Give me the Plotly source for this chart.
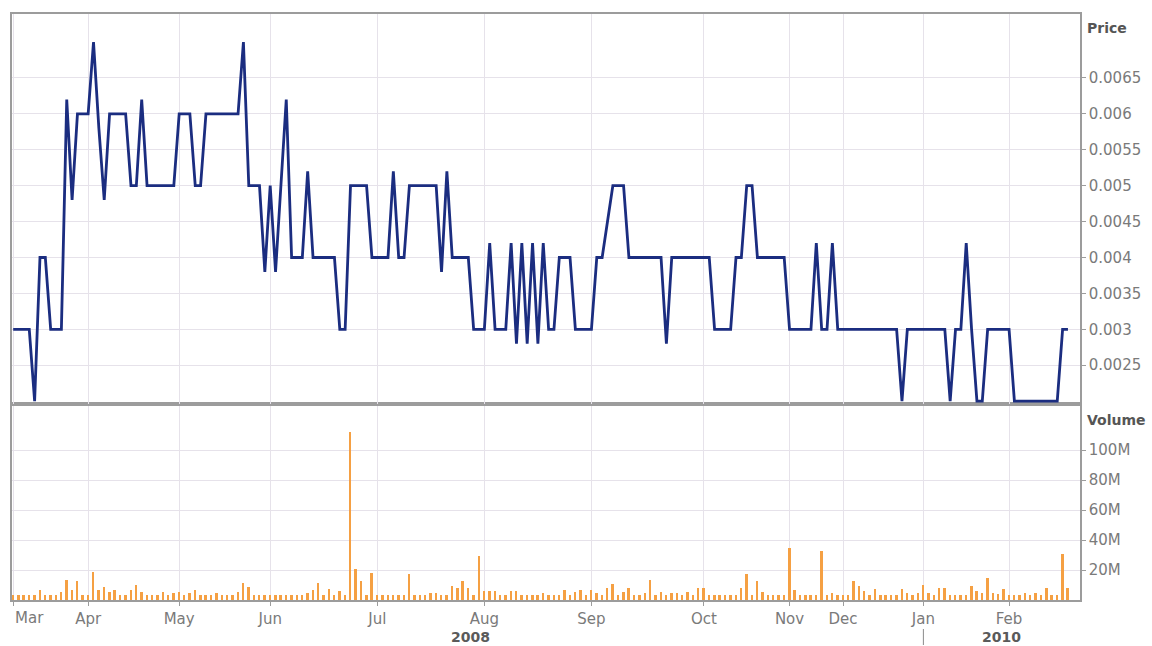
import plotly.graph_objects as go

# ---- data (one value per trading record) ----
price = [
    0.003, 0.003, 0.003, 0.003, 0.002, 0.004, 0.004, 0.003, 0.003, 0.003,   # 0-9
    0.0062, 0.0048, 0.006, 0.006, 0.006, 0.007, 0.0058, 0.0048, 0.006, 0.006,  # 10-19
    0.006, 0.006, 0.005, 0.005, 0.0062, 0.005, 0.005, 0.005, 0.005, 0.005,   # 20-29
    0.005, 0.006, 0.006, 0.006, 0.005, 0.005, 0.006, 0.006, 0.006, 0.006,    # 30-39
    0.006, 0.006, 0.006, 0.007, 0.005, 0.005, 0.005, 0.0038, 0.005, 0.0038,  # 40-49
    0.005, 0.0062, 0.004, 0.004, 0.004, 0.0052, 0.004, 0.004, 0.004, 0.004,  # 50-59
    0.004, 0.003, 0.003, 0.005, 0.005, 0.005, 0.005, 0.004, 0.004, 0.004,    # 60-69
    0.004, 0.0052, 0.004, 0.004, 0.005, 0.005, 0.005, 0.005, 0.005, 0.005,   # 70-79
    0.0038, 0.0052, 0.004, 0.004, 0.004, 0.004, 0.003, 0.003, 0.003, 0.0042, # 80-89
    0.003, 0.003, 0.003, 0.0042, 0.0028, 0.0042, 0.0028, 0.0042, 0.0028, 0.0042,  # 90-99
    0.003, 0.003, 0.004, 0.004, 0.004, 0.003, 0.003, 0.003, 0.003, 0.004,    # 100-109
    0.004, 0.0045, 0.005, 0.005, 0.005, 0.004, 0.004, 0.004, 0.004, 0.004,   # 110-119
    0.004, 0.004, 0.0028, 0.004, 0.004, 0.004, 0.004, 0.004, 0.004, 0.004,   # 120-129
    0.004, 0.003, 0.003, 0.003, 0.003, 0.004, 0.004, 0.005, 0.005, 0.004,    # 130-139
    0.004, 0.004, 0.004, 0.004, 0.004, 0.003, 0.003, 0.003, 0.003, 0.003,    # 140-149
    0.0042, 0.003, 0.003, 0.0042, 0.003, 0.003, 0.003, 0.003, 0.003, 0.003,  # 150-159
    0.003, 0.003, 0.003, 0.003, 0.003, 0.003, 0.002, 0.003, 0.003, 0.003,    # 160-169
    0.003, 0.003, 0.003, 0.003, 0.003, 0.002, 0.003, 0.003, 0.0042, 0.003,   # 170-179
    0.002, 0.002, 0.003, 0.003, 0.003, 0.003, 0.003, 0.002, 0.002, 0.002,    # 180-189
    0.002, 0.002, 0.002, 0.002, 0.002, 0.002, 0.003, 0.003,                  # 190-197
]

volume_m = [
    3.3, 3.3, 3.3, 3.3, 3.3, 6.7, 3.3, 3.3, 3.3, 5.6,        # 0-9
    13.3, 6.7, 12.7, 3.3, 3.3, 18.9, 6.7, 8.9, 5.6, 6.7,     # 10-19
    3.3, 3.3, 6.7, 10.0, 5.6, 3.3, 3.3, 3.3, 5.6, 3.3,       # 20-29
    4.4, 5.6, 3.3, 4.4, 6.7, 3.3, 3.3, 3.3, 4.4, 3.3,        # 30-39
    3.3, 3.3, 5.6, 11.1, 8.9, 3.3, 3.3, 3.3, 3.3, 3.3,       # 40-49
    3.3, 3.3, 3.3, 3.3, 3.3, 4.4, 6.7, 11.5, 3.3, 7.1,       # 50-59
    3.3, 6.0, 3.3, 112.0, 20.4, 12.9, 3.3, 18.2, 3.3, 3.3,   # 60-69
    3.3, 3.3, 3.3, 3.3, 17.1, 3.3, 3.3, 3.3, 4.4, 4.4,       # 70-79
    3.3, 3.3, 9.3, 8.2, 12.7, 8.2, 3.3, 29.3, 6.0, 6.0,      # 80-89
    6.0, 3.3, 3.3, 6.0, 6.0, 3.3, 3.3, 3.3, 3.3, 4.4,        # 90-99
    3.3, 3.3, 3.3, 6.7, 3.3, 5.6, 6.7, 3.3, 6.7, 4.4,        # 100-109
    3.3, 7.8, 10.4, 3.3, 5.6, 7.8, 3.3, 3.3, 4.4, 13.3,      # 110-119
    3.3, 5.6, 3.3, 4.4, 4.4, 3.3, 5.6, 3.3, 7.8, 7.8,        # 120-129
    3.3, 3.3, 3.3, 3.3, 3.3, 3.3, 7.8, 17.1, 3.3, 12.7,      # 130-139
    5.6, 3.3, 3.3, 3.3, 3.3, 34.4, 6.7, 3.3, 3.3, 3.3,       # 140-149
    3.3, 32.9, 3.3, 4.9, 3.3, 3.3, 3.3, 12.9, 9.3, 6.0,      # 150-159
    3.3, 7.1, 3.3, 3.3, 3.3, 3.3, 7.1, 4.9, 3.3, 4.9,        # 160-169
    10.0, 4.9, 3.3, 8.2, 8.2, 3.3, 3.3, 3.3, 3.3, 9.3,       # 170-179
    6.0, 4.9, 14.9, 4.9, 3.8, 7.1, 3.3, 3.3, 3.3, 4.9,       # 180-189
    3.3, 4.9, 3.3, 8.2, 3.3, 3.3, 30.7, 8.2,                 # 190-197
]

record = list(range(len(price)))

month_labels = ["Mar", "Apr", "May", "Jun", "Jul", "Aug", "Sep", "Oct", "Nov", "Dec", "Jan", "Feb"]
month_start = [0, 14, 31, 48, 68, 88, 108, 129, 145, 155, 170, 186]

price_ticks = [0.0025, 0.003, 0.0035, 0.004, 0.0045, 0.005, 0.0055, 0.006, 0.0065]
price_tick_text = ["0.0025", "0.003", "0.0035", "0.004", "0.0045", "0.005", "0.0055", "0.006", "0.0065"]
volume_ticks = [20, 40, 60, 80, 100]
volume_tick_text = ["20M", "40M", "60M", "80M", "100M"]

# ---- styling ----
NAVY = "#1b2d80"
ORANGE = "#f5a043"
GRID = "#e6e2ea"
FRAME = "#9c9c9c"
TICKFONT = dict(family="DejaVu Sans", size=15, color="#7a7a7a")
LABELFONT = dict(family="DejaVu Sans", size=14, color="#555555")

W, H = 1152, 646
L, R, T, B = 12, 72, 14, 46
plot_h = H - T - B
split = (600 - 404) / plot_h   # volume panel fraction

fig = go.Figure()
fig.add_trace(go.Scatter(
    x=record, y=price, mode="lines",
    line=dict(color=NAVY, width=2.8),
    xaxis="x2", yaxis="y", showlegend=False, hoverinfo="x+y",
))
fig.add_trace(go.Bar(
    x=record, y=volume_m, width=0.36,
    marker=dict(color=ORANGE, line=dict(width=0)),
    xaxis="x", yaxis="y2", showlegend=False,
))

xrange = [-0.224, 199.25]
common_x = dict(
    range=xrange, showgrid=True, gridcolor=GRID, gridwidth=1, automargin=False,
    zeroline=False, showline=True, linecolor=FRAME, linewidth=1.5, mirror=True,
    tickmode="array", tickvals=month_start,
)

fig.update_layout(
    width=W, height=H, autosize=False,
    margin=dict(l=L, r=R, t=T, b=B, autoexpand=False),
    paper_bgcolor="white", plot_bgcolor="white",
    xaxis=dict(
        **common_x, anchor="y2", domain=[0, 1],
        ticktext=[""] + month_labels[1:],
        ticks="outside", ticklen=4, tickcolor=FRAME, tickwidth=1,
        tickfont=TICKFONT, ticklabelstandoff=0,
    ),
    xaxis2=dict(
        **common_x, anchor="y", domain=[0, 1], matches="x",
        showticklabels=False, ticks="",
    ),
    yaxis=dict(
        domain=[split, 1], anchor="x2", side="right", automargin=False,
        range=[0.00196, 0.00739],
        tickmode="array", tickvals=price_ticks, ticktext=price_tick_text,
        showgrid=True, gridcolor=GRID, zeroline=False,
        showline=True, linecolor=FRAME, linewidth=1.5, mirror=True,
        ticks="outside", ticklen=4, tickcolor=FRAME, tickfont=TICKFONT,
    ),
    yaxis2=dict(
        domain=[0, split], anchor="x", side="right", automargin=False,
        range=[0, 130.7],
        tickmode="array", tickvals=volume_ticks, ticktext=volume_tick_text,
        showgrid=True, gridcolor=GRID, zeroline=False,
        showline=True, linecolor=FRAME, linewidth=1.5, mirror=True,
        ticks="outside", ticklen=4, tickcolor=FRAME, tickfont=TICKFONT,
    ),
    bargap=0,
)


def py(pix):
    return (H - B - pix) / plot_h


def px(pix):
    return (pix - L) / (W - L - R)


fig.add_annotation(text="<b>Price</b>", xref="paper", yref="paper", x=px(1085), y=py(28),
                   xanchor="left", yanchor="middle", showarrow=False, font=LABELFONT)
fig.add_annotation(text="<b>Volume</b>", xref="paper", yref="paper", x=px(1085), y=py(420),
                   xanchor="left", yanchor="middle", showarrow=False, font=LABELFONT)
fig.add_annotation(text=month_labels[0], xref="x", yref="paper", x=month_start[0], y=py(618),
                   xanchor="left", yanchor="middle", showarrow=False, font=TICKFONT)
fig.add_annotation(text="<b>2008</b>", xref="paper", yref="paper", x=px(470), y=py(637),
                   xanchor="center", yanchor="middle", showarrow=False,
                   font=dict(family="DejaVu Sans", size=14, color="#5a5a5a"))
fig.add_annotation(text="<b>2010</b>", xref="paper", yref="paper", x=px(1001), y=py(637),
                   xanchor="center", yanchor="middle", showarrow=False,
                   font=dict(family="DejaVu Sans", size=14, color="#5a5a5a"))
fig.add_shape(type="line", xref="x", yref="paper", x0=month_start[10], x1=month_start[10],
              y0=py(629), y1=py(645), line=dict(color="#8a8a8a", width=1))

fig.write_html(
    "out.html",
    config={"displayModeBar": False},
    post_script="document.body.style.margin='0';document.body.style.overflow='hidden';",
)
